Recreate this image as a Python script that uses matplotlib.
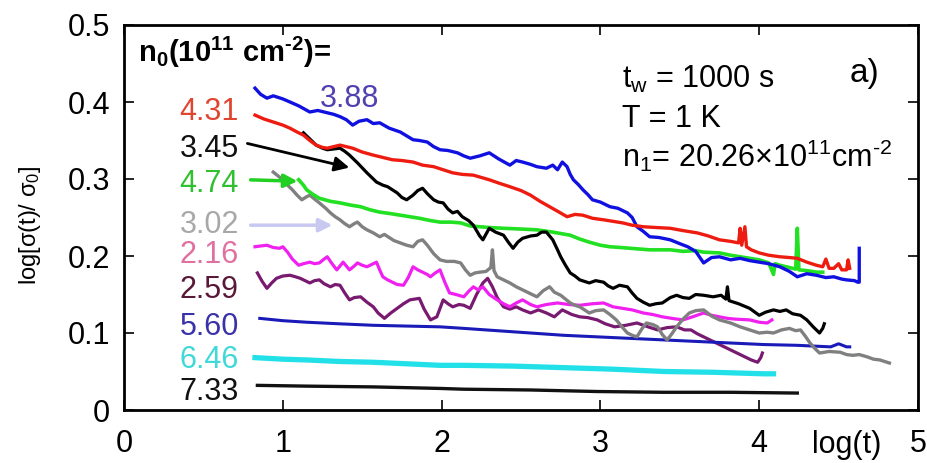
import matplotlib
matplotlib.use("Agg")
import matplotlib.pyplot as plt
import numpy as np

plt.rcParams['font.family'] = ['Liberation Sans', 'DejaVu Sans']
plt.rcParams['mathtext.fontset'] = 'custom'
plt.rcParams['mathtext.rm'] = 'Liberation Sans'
plt.rcParams['mathtext.it'] = 'Liberation Sans:italic'
plt.rcParams['mathtext.bf'] = 'Liberation Sans:bold'

# curves: (log t, log[sigma(t)/sigma0])
c388 = [(.825,.418),(.86,.410),(.90,.405),(.94,.408),(1.0,.404),(1.045,.400),(1.10,.395),(1.17,.387),
        (1.22,.389),(1.28,.386),(1.32,.384),(1.36,.381),(1.40,.377),(1.44,.370),(1.48,.375),(1.53,.377),
        (1.57,.372),(1.61,.373),(1.67,.366),(1.74,.361),(1.78,.356),(1.82,.351),(1.86,.350),(1.91,.348),
        (1.95,.342),(1.99,.338),(2.04,.337),(2.10,.334),(2.14,.330),(2.18,.327),(2.24,.330),(2.30,.334),
        (2.36,.326),(2.43,.318),(2.47,.324),(2.51,.322),(2.56,.319),(2.60,.316),(2.66,.314),(2.70,.318),
        (2.73,.312),(2.76,.322),(2.79,.316),(2.81,.306),(2.83,.299),(2.86,.293),(2.89,.286),(2.92,.280),
        (2.95,.273),(3.00,.270),(3.06,.264),(3.11,.262),(3.17,.256),(3.20,.250),(3.23,.238),(3.27,.232),
        (3.31,.225),(3.37,.224),(3.44,.221),(3.50,.216),(3.55,.212),(3.60,.206),(3.65,.191),(3.70,.198),
        (3.75,.199),(3.82,.195),(3.88,.197),(3.94,.194),(4.0,.192),(4.06,.190),(4.13,.186),(4.19,.180),
        (4.24,.173),(4.30,.177),(4.36,.175),(4.42,.172),(4.47,.173),(4.52,.170),(4.55,.169),(4.60,.168),
        (4.62,.166),(4.63,.166),(4.63,.210)]
c431 = [(.825,.383),(.88,.378),(.94,.374),(1.0,.370),(1.045,.366),(1.09,.361),(1.13,.357),(1.17,.350),
        (1.21,.344),(1.25,.341),(1.28,.340),(1.32,.342),(1.36,.344),(1.40,.342),(1.44,.340),(1.50,.335),
        (1.57,.331),(1.63,.328),(1.69,.325),(1.75,.324),(1.82,.322),(1.88,.318),(1.95,.316),(2.01,.312),
        (2.07,.308),(2.13,.306),(2.20,.305),(2.25,.302),(2.30,.299),(2.37,.294),(2.43,.290),(2.50,.285),
        (2.56,.279),(2.62,.271),(2.68,.264),(2.74,.257),(2.79,.251),(2.84,.254),(2.89,.253),(2.95,.249),
        (3.02,.247),(3.08,.245),(3.14,.243),(3.20,.240),(3.27,.238),(3.35,.237),(3.44,.236),(3.52,.233),
        (3.61,.230),(3.68,.226),(3.75,.221),(3.82,.219),(3.87,.217),(3.88,.236),(3.89,.214),(3.91,.238),
        (3.92,.212),(3.95,.208),(4.0,.204),(4.06,.201),(4.13,.199),(4.19,.198),(4.24,.197),(4.30,.192),
        (4.36,.188),(4.40,.186),(4.42,.196),(4.44,.184),(4.47,.184),(4.50,.190),(4.52,.182),(4.55,.182),
        (4.56,.195),(4.57,.184)]
c345 = [(1.13,.360),(1.17,.352),(1.21,.344),(1.25,.340),(1.28,.338),(1.32,.339),(1.36,.340),(1.39,.336),
        (1.42,.331),(1.47,.321),(1.53,.308),(1.56,.302),(1.59,.296),(1.63,.292),(1.66,.290),(1.69,.286),
        (1.72,.282),(1.75,.276),(1.78,.273),(1.82,.279),(1.85,.285),(1.88,.288),(1.91,.281),(1.95,.273),
        (1.98,.270),(2.01,.269),(2.04,.261),(2.07,.256),(2.10,.258),(2.13,.251),(2.17,.246),(2.20,.240),
        (2.24,.226),(2.26,.221),(2.30,.236),(2.34,.231),(2.39,.227),(2.42,.218),(2.45,.210),(2.48,.218),
        (2.51,.223),(2.56,.226),(2.60,.227),(2.63,.231),(2.66,.231),(2.70,.221),(2.73,.208),(2.75,.199),
        (2.78,.188),(2.81,.178),(2.84,.174),(2.87,.169),(2.90,.167),(2.93,.165),(2.97,.168),(3.02,.166),
        (3.05,.161),(3.08,.158),(3.12,.162),(3.17,.160),(3.20,.152),(3.23,.145),(3.27,.140),(3.31,.136),
        (3.35,.138),(3.39,.139),(3.44,.146),(3.48,.149),(3.52,.146),(3.56,.145),(3.60,.150),(3.65,.149),
        (3.71,.147),(3.76,.149),(3.79,.144),(3.80,.160),(3.81,.142),(3.87,.138),(3.94,.132),(4.0,.123),
        (4.04,.127),(4.09,.130),(4.13,.128),(4.17,.130),(4.21,.125),(4.26,.123),(4.30,.117),(4.34,.108),
        (4.38,.100),(4.40,.106),(4.41,.112)]
c474 = [(1.10,.299),(1.13,.292),(1.15,.286),(1.19,.280),(1.23,.275),(1.30,.271),(1.36,.269),(1.43,.266),
        (1.49,.264),(1.55,.260),(1.61,.257),(1.68,.255),(1.74,.253),(1.80,.251),(1.86,.249),(1.93,.246),
        (1.99,.244),(2.06,.244),(2.12,.243),(2.18,.239),(2.24,.238),(2.30,.237),(2.39,.236),(2.50,.235),
        (2.60,.234),(2.70,.231),(2.81,.227),(2.87,.222),(2.93,.218),(3.00,.214),(3.06,.212),(3.13,.211),
        (3.19,.210),(3.25,.209),(3.31,.208),(3.38,.208),(3.44,.208),(3.52,.206),(3.60,.207),(3.65,.205),
        (3.75,.204),(3.82,.201),(3.88,.199),(3.94,.197),(4.0,.195),(4.06,.191),(4.09,.176),(4.10,.190),
        (4.13,.188),(4.19,.185),(4.23,.183),(4.24,.236),(4.25,.182),(4.30,.181),(4.36,.179),(4.40,.179)]
c302 = [(.94,.309),(.97,.304),(1.0,.299),(1.03,.292),(1.06,.286),(1.09,.279),(1.12,.273),(1.15,.277),
        (1.17,.279),(1.20,.274),(1.23,.269),(1.27,.262),(1.30,.256),(1.33,.251),(1.36,.247),(1.39,.242),
        (1.42,.238),(1.45,.242),(1.47,.244),(1.50,.238),(1.53,.234),(1.57,.230),(1.61,.225),(1.64,.228),
        (1.67,.224),(1.70,.220),(1.74,.217),(1.78,.214),(1.82,.212),(1.85,.219),(1.88,.221),(1.91,.214),
        (1.95,.203),(1.99,.195),(2.03,.193),(2.08,.193),(2.12,.191),(2.15,.182),(2.18,.175),(2.21,.178),
        (2.24,.179),(2.28,.180),(2.31,.185),(2.32,.208),(2.33,.181),(2.35,.173),(2.39,.169),(2.43,.165),
        (2.47,.160),(2.51,.156),(2.56,.151),(2.60,.147),(2.64,.155),(2.68,.160),(2.71,.153),(2.75,.149),
        (2.78,.144),(2.81,.139),(2.84,.136),(2.87,.134),(2.90,.130),(2.93,.126),(2.97,.129),(3.02,.130),
        (3.06,.124),(3.10,.117),(3.14,.107),(3.17,.100),(3.20,.097),(3.23,.095),(3.26,.105),(3.29,.113),
        (3.33,.111),(3.36,.108),(3.39,.098),(3.42,.091),(3.45,.099),(3.48,.108),(3.52,.118),(3.56,.126),
        (3.60,.129),(3.65,.130),(3.70,.122),(3.75,.117),(3.82,.113),(3.88,.108),(3.94,.104),(4.0,.100),
        (4.05,.101),(4.09,.100),(4.14,.104),(4.19,.106),(4.23,.103),(4.26,.104),(4.29,.096),(4.32,.087),
        (4.35,.080),(4.38,.074),(4.44,.076),(4.51,.075),(4.55,.072),(4.59,.071),(4.63,.072),(4.68,.069),
        (4.72,.066),(4.76,.065),(4.79,.063),(4.82,.061)]
c216 = [(.825,.212),(.86,.213),(.90,.214),(.94,.211),(.98,.210),(1.0,.212),(1.03,.205),(1.06,.196),
        (1.10,.188),(1.13,.190),(1.17,.192),(1.20,.190),(1.23,.191),(1.26,.196),(1.28,.199),(1.31,.190),
        (1.34,.182),(1.36,.187),(1.38,.192),(1.40,.187),(1.42,.182),(1.45,.187),(1.47,.191),(1.50,.188),
        (1.53,.186),(1.56,.189),(1.59,.192),(1.61,.182),(1.63,.173),(1.66,.169),(1.69,.166),(1.72,.163),
        (1.76,.162),(1.79,.172),(1.82,.186),(1.85,.182),(1.88,.179),(1.91,.176),(1.93,.173),(1.96,.178),
        (1.99,.182),(2.02,.166),(2.05,.152),(2.09,.150),(2.14,.147),(2.17,.154),(2.20,.160),(2.23,.156),
        (2.26,.160),(2.30,.150),(2.35,.143),(2.39,.138),(2.43,.134),(2.47,.139),(2.51,.143),(2.56,.137),
        (2.60,.134),(2.66,.137),(2.73,.139),(2.80,.137),(2.87,.136),(2.95,.138),(3.02,.139),(3.08,.134),
        (3.14,.132),(3.20,.130),(3.27,.126),(3.33,.124),(3.39,.121),(3.45,.119),(3.52,.117),(3.58,.121),
        (3.65,.126),(3.70,.123),(3.75,.121),(3.80,.119),(3.85,.118),(3.94,.117),(4.0,.114),(4.05,.113),
        (4.08,.117)]
c259 = [(.84,.178),(.87,.167),(.90,.158),(.93,.165),(.96,.171),(1.0,.174),(1.045,.175),(1.08,.173),
        (1.11,.171),(1.14,.168),(1.17,.165),(1.20,.168),(1.23,.169),(1.26,.164),(1.30,.160),(1.33,.163),
        (1.36,.162),(1.39,.152),(1.42,.143),(1.45,.146),(1.49,.147),(1.53,.140),(1.57,.134),(1.60,.126),
        (1.64,.119),(1.68,.126),(1.72,.132),(1.76,.138),(1.80,.143),(1.83,.144),(1.86,.145),(1.89,.131),
        (1.93,.117),(1.95,.119),(1.97,.121),(2.01,.143),(2.04,.138),(2.07,.134),(2.11,.137),(2.14,.136),
        (2.18,.132),(2.22,.150),(2.26,.165),(2.29,.171),(2.32,.160),(2.35,.146),(2.39,.134),(2.43,.131),
        (2.47,.134),(2.51,.130),(2.56,.126),(2.61,.130),(2.66,.126),(2.71,.121),(2.76,.130),(2.82,.124),
        (2.87,.121),(2.92,.120),(2.98,.117),(3.03,.112),(3.09,.108),(3.16,.110),(3.23,.113),(3.30,.108),
        (3.36,.104),(3.42,.107),(3.48,.108),(3.53,.104),(3.57,.104),(3.61,.099),(3.65,.095),(3.69,.091),
        (3.73,.087),(3.78,.082),(3.82,.078),(3.87,.073),(3.91,.069),(3.95,.065),(3.99,.062),(4.01,.068),
        (4.02,.074)]
c560 = [(.855,.119),(1.0,.116),(1.15,.114),(1.35,.112),(1.57,.110),(1.78,.109),(1.99,.108),(2.14,.106),
        (2.35,.103),(2.56,.100),(2.77,.097),(2.98,.095),(3.19,.093),(3.40,.091),(3.61,.089),(3.82,.087),
        (4.03,.085),(4.24,.084),(4.45,.082),(4.50,.086),(4.55,.082),(4.57,.082)]
c646 = [(.825,.068),(1.0,.066),(1.15,.065),(1.36,.063),(1.57,.062),(1.78,.060),(1.99,.058),(2.14,.058),
        (2.45,.057),(2.77,.055),(3.08,.053),(3.40,.050),(3.71,.049),(4.03,.047),(4.09,.047)]
c733 = [(.84,.032),(1.15,.031),(1.57,.030),(1.99,.028),(2.14,.027),(2.56,.026),(2.98,.024),(3.40,.023),
        (3.82,.023),(4.24,.022)]

# label text, colour and baseline of each curve label (right aligned)
names = ['4.31', '3.45', '4.74', '3.02', '2.16', '2.59', '5.60', '6.46', '7.33']
label_y = [.377, .329, .283, .230, .191, .145, .097, .055, .013]
label_col = ['#e0452f', '#111111', '#30c030', '#a8a8a8', '#e070a0', '#5a1838', '#3a32a8', '#40d8d8', '#111111']

fig = plt.figure(figsize=(9.28, 4.63), dpi=100)
ax = fig.add_axes([124/928, 53/463, 794/928, 385/463])

ax.plot(*np.array(c259).T, color='#781a70', lw=2.3)
ax.plot(*np.array(c216).T, color='#f020f0', lw=2.3)
ax.plot(*np.array(c560).T, color='#1a1ab8', lw=2.2)
ax.plot(*np.array(c646).T, color='#22e0e8', lw=3.8)
ax.plot(*np.array(c733).T, color='#111111', lw=2.4)
ax.plot(*np.array(c302).T, color='#808080', lw=2.4)
ax.plot(*np.array(c474).T, color='#22e022', lw=2.6)
ax.plot(*np.array(c345).T, color='#000000', lw=2.3)
ax.plot(*np.array(c388).T, color='#1010e0', lw=2.4)
ax.plot(*np.array(c431).T, color='#ee1c10', lw=2.4)

for n, y, c in zip(names, label_y, label_col):
    ax.text(0.724, y, n, color=c, fontsize=22, ha='right', va='baseline')
ax.text(1.234, .394, '3.88', color='#5040b0', fontsize=22, ha='left', va='baseline')

# arrows from the labels to their curves
ax.annotate('', xy=(1.436, .314), xytext=(.76, .347),
            arrowprops=dict(arrowstyle='-|>', color='black', lw=2, mutation_scale=22))
ax.annotate('', xy=(1.11, .297), xytext=(.78, .299),
            arrowprops=dict(arrowstyle='-|>', color='#22d022', lw=2.5, mutation_scale=20))
ax.annotate('', xy=(1.33, .240), xytext=(.78, .240),
            arrowprops=dict(arrowstyle='-|>', color='#c8c8f0', lw=2.5, mutation_scale=20))

ax.text(.088, .452, r'$\mathregular{n_0(10^{11}\ cm^{‐2})}$=', fontsize=21, fontweight='bold', va='baseline')
ax.text(3.136, .418, r'$\mathregular{t_w}$ = 1000 s', fontsize=22, va='baseline')
ax.text(3.136, .3675, 'T = 1 K', fontsize=22, va='baseline')
ax.text(3.136, .3156, r'$\mathregular{n_1}$= 20.26×$\mathregular{10^{11}cm^{‐2}}$', fontsize=22, va='baseline')
ax.text(4.57, .426, 'a)', fontsize=24, va='baseline')

ax.set_xlim(0, 5)
ax.set_ylim(0, 0.5)
ax.set_xticks([0, 1, 2, 3, 4, 5])
ax.set_yticks([0, 0.1, 0.2, 0.3, 0.4, 0.5])
ax.set_xticklabels(['0', '1', '2', '3', '4', '5'])
ax.set_yticklabels(['0', '0.1', '0.2', '0.3', '0.4', '0.5'])
ax.tick_params(direction='in', length=7, width=1.2, top=True, right=True, labelsize=22)
ax.tick_params(axis='x', pad=14)
ax.tick_params(axis='y', pad=10)
for s in ax.spines.values():
    s.set_linewidth(2)

ax.text(4.55, -0.09, 'log(t)', fontsize=22, ha='center', va='center',
        transform=ax.get_xaxis_transform())
fig.text(30/928, 1 - 225/463, r'$\mathregular{log[σ(t)/\ σ_0]}$', fontsize=17,
         rotation=90, ha='center', va='center')

fig.savefig('out.png', dpi=100)
